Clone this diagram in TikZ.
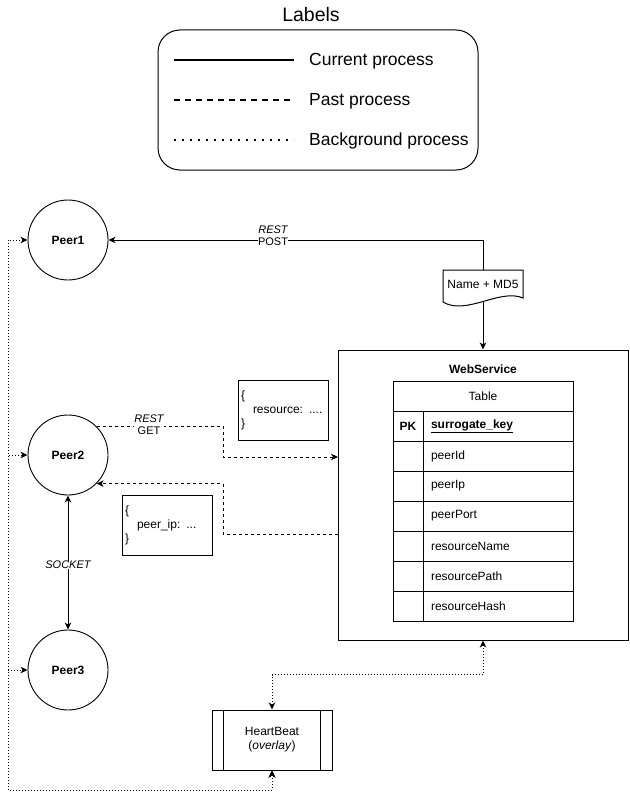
\documentclass[tikz,border=0pt]{standalone}
\usepackage{fontspec}
\setmainfont{Liberation Sans}
\usetikzlibrary{arrows.meta,calc}
\tikzset{
  tp/.tip={Stealth[length=7pt,width=6.5pt,inset=2pt]},
  txt/.style={font=\fontsize{12}{14}\selectfont, inner sep=0pt},
  lbl/.style={font=\fontsize{11}{12}\selectfont\itshape, inner sep=0.5pt, fill=white, align=center},
  cur/.style={draw, line width=1pt, -tp},
  past/.style={cur, dash pattern=on 3pt off 3pt},
  bgl/.style={cur, dash pattern=on 1pt off 2pt},
  peer/.style={txt, draw, circle, line width=0.9pt, minimum size=80pt, font=\fontsize{12}{14}\selectfont\bfseries},
  box/.style={txt, draw, line width=1pt},
  cell/.style={box, minimum height=30pt},
  vcell/.style={cell, text width=134pt, inner xsep=8pt, align=left},
  json/.style={box, minimum height=60pt, text width=84pt, inner xsep=3pt, align=left},
  legtxt/.style={font=\fontsize{17.5}{20}\selectfont, inner sep=0pt, anchor=west}
}
\begin{document}
\begin{tikzpicture}[x=1pt,y=-1pt]
\useasboundingbox (0,0) rectangle (629,800);

% legend
\node[font=\fontsize{19.5}{22}\selectfont, inner sep=0pt] (title) at (311,15) {Labels};
\node[draw, line width=1pt, rounded corners=22pt, minimum width=320pt, minimum height=140pt, inner sep=0pt] (legend) at (318,100) {};
\coordinate (la1) at (174,60); \coordinate (lb1) at (294,60);
\coordinate (la2) at (174,100); \coordinate (lb2) at (294,100);
\coordinate (la3) at (174,140); \coordinate (lb3) at (294,140);
\draw[line width=2pt] (la1) -- (lb1);
\draw[line width=2pt, dash pattern=on 6pt off 5pt] (la2) -- (lb2);
\draw[line width=2pt, dash pattern=on 2pt off 6pt] (la3) -- (lb3);
\node[legtxt] (t1) at (309,61) {Current process};
\node[legtxt] (t2) at (309,101) {Past process};
\node[legtxt] (t3) at (309,141) {Background process};

% peers
\node[peer] (p1) at (68,240) {Peer1};
\node[peer] (p2) at (68,455) {Peer2};
\node[peer] (p3) at (68,670) {Peer3};

% web service
\node[box, minimum width=290pt, minimum height=290pt] (ws) at (483,495) {};
\node[txt, font=\fontsize{12}{14}\selectfont\bfseries] (wst) at (483,369) {WebService};
\node[cell, minimum width=180pt] (th) at (483,396) {Table};
\node[cell, minimum width=30pt, font=\fontsize{12}{14}\selectfont\bfseries] (k0) at (408,426) {PK};
\node[vcell] (v0) at (498,426) {\textbf{\underline{surrogate\_key}}};
\node[cell, minimum width=30pt] (k1) at (408,456) {};
\node[vcell] (v1) at (498,456) {peerId};
\node[cell, minimum width=30pt] (k2) at (408,486) {};
\node[vcell] (v2) at (498,486) {peerIp};
\node[cell, minimum width=30pt] (k3) at (408,516) {};
\node[vcell] (v3) at (498,516) {peerPort};
\node[cell, minimum width=30pt] (k4) at (408,546) {};
\node[vcell] (v4) at (498,546) {resourceName};
\node[cell, minimum width=30pt] (k5) at (408,576) {};
\node[vcell] (v5) at (498,576) {resourcePath};
\node[cell, minimum width=30pt] (k6) at (408,606) {};
\node[vcell] (v6) at (498,606) {resourceHash};

% document
\node[txt, minimum width=80pt, minimum height=32pt] (doc) at (483,286) {\raisebox{3pt}{Name + MD5}};
\draw[line width=1pt] (443,302) -- (443,270) -- (523,270) -- (523,298)
  .. controls (500,288) and (466,316) .. (443,302);

% json boxes
\node[json] (res) at (283,410) {\{\\\hspace*{12pt}resource: ....\\\}};
\node[json] (pip) at (167,525) {\{\\\hspace*{12pt}peer\_ip: ...\\\}};

% heartbeat
\node[box, minimum width=120pt, minimum height=60pt, align=center] (hb) at (272,740) {HeartBeat\\(\textit{overlay})};
\draw[line width=1pt] ($(hb.north west)+(12,0)$) -- ($(hb.south west)+(12,0)$);
\draw[line width=1pt] ($(hb.north east)+(-12,0)$) -- ($(hb.south east)+(-12,0)$);

% connectors
\draw[cur] (doc.north) |- (p1.east);
\node[lbl] (postl) at (273,236) {REST\\\upshape POST};
\draw[cur] (doc.south) -- (ws.north);

\coordinate (gin) at (338,457);
\coordinate (rout) at (338,534);
\draw[past] (p2.45) -| (223,457) -- (gin);
\node[lbl] (getl) at (149,425) {REST\\\upshape GET};
\draw[past] (rout) -- (223,534) |- (p2.-45);

\draw[cur, tp-tp] (p2.south) -- (p3.north) node[lbl, midway, yshift=-2.5pt] (sockl) {SOCKET};

\draw[bgl, tp-tp] (hb.north) -- ++(0,-35) -| (ws.south);
\coordinate (lx) at (8,790);
\draw[bgl, tp-tp] (hb.south) |- (lx) |- (p1.west);
\draw[bgl, tp-tp] (hb.south) |- (lx) |- (p2.west);
\draw[bgl, tp-tp] (hb.south) |- (lx) |- (p3.west);
\end{tikzpicture}
\end{document}
